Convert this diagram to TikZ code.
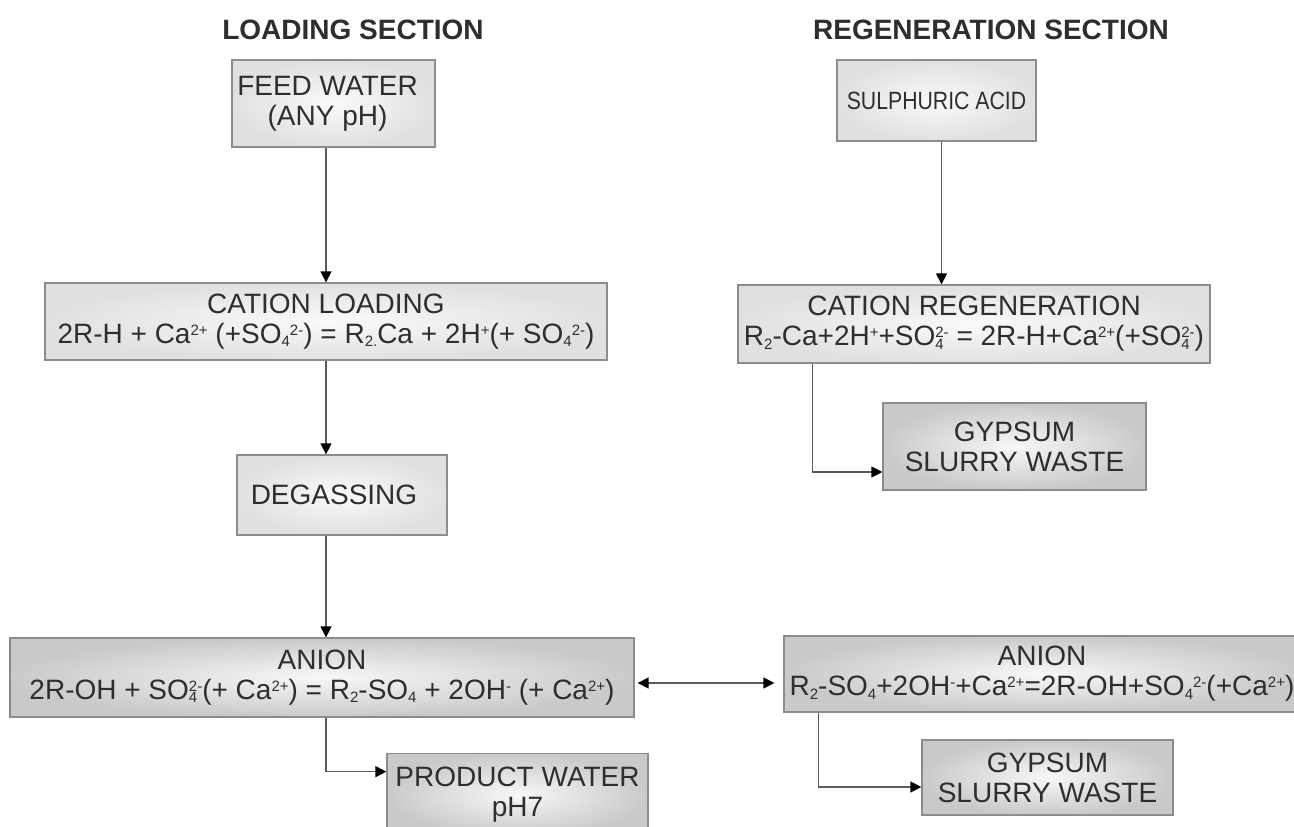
\documentclass[tikz,border=0pt]{standalone}
\usepackage{fontspec}
\setmainfont{Liberation Sans}
\usetikzlibrary{arrows.meta,calc}
\newcommand\scr{\fontsize{15}{15}\selectfont}
\newcommand\subsup[2]{{\setbox0\hbox{\scr\raisebox{-0.4ex}{#1}}\setbox2\hbox{\scr\raisebox{1.05ex}{#2}}\ifdim\wd0>\wd2 \rlap{\box2}\box0\else\rlap{\box0}\box2\fi}}
\newcommand\sbs[1]{{\scr\raisebox{-0.4ex}{#1}}}
\newcommand\sps[1]{{\scr\raisebox{1.05ex}{#1}}}
\definecolor{txt}{HTML}{2E2E2E}
\definecolor{edge}{HTML}{8C8C8C}
\definecolor{line}{HTML}{5A5A5A}
\tikzset{
  box/.style={draw=edge, line width=1.3pt, rectangle, align=center, inner sep=2pt,
    text=txt, font=\fontsize{28}{30}\selectfont},
  lightbox/.style={box, inner color=gray!4, outer color=gray!24},
  darkbox/.style={box, inner color=gray!6, outer color=gray!42},
  head/.style={text=txt, font=\bfseries\fontsize{28}{30}\selectfont},
  arr/.style={draw=line, line width=1.4pt, -{Triangle[length=11pt,width=11pt,color=black]}},
  dbl/.style={draw=line, line width=1.4pt, {Triangle[length=11pt,width=11pt,color=black]}-{Triangle[length=11pt,width=11pt,color=black]}}
}
\begin{document}
\begin{tikzpicture}[x=1pt,y=-1pt]
\useasboundingbox (0,0) rectangle (1294,827);
\clip (0,0) rectangle (1294,827);
\fill[white] (0,0) rectangle (1294,827);
\node[head] (hl) at (353,30) {LOADING SECTION};
\node[head] (hr) at (991,30) {REGENERATION SECTION};

\node[lightbox, minimum width=203pt, minimum height=87pt] (feed) at (333.5,103.5) {\hspace*{-12pt}FEED WATER\\\hspace*{-12pt}(ANY pH)};
\node[lightbox, minimum width=199pt, minimum height=81pt, font=\fontsize{25}{28}\selectfont] (acid) at (936.5,100.5) {\scalebox{0.85}[1]{SULPHURIC ACID}};
\node[lightbox, minimum width=562pt, minimum height=77pt] (catload) at (326,321.5)
  {CATION LOADING\\2R-H + Ca\sps{2+} (+SO\sbs{4}\sps{2-}) = R\sbs{2.}Ca + 2H\sps{+}(+ SO\sbs{4}\sps{2-})};
\node[lightbox, minimum width=472pt, minimum height=78pt] (catregen) at (974,324)
  {CATION REGENERATION\\R\sbs{2}-Ca+2H\sps{+}+SO\subsup{4}{2-} = 2R-H+Ca\sps{2+}(+SO\subsup{4}{2-})};
\node[darkbox, minimum width=263pt, minimum height=87pt] (gyp1) at (1014.5,446.5) {GYPSUM\\SLURRY WASTE};
\node[lightbox, minimum width=210pt, minimum height=80pt] (degas) at (342,495) {\hspace*{-16pt}DEGASSING};
\node[darkbox, minimum width=624pt, minimum height=79pt] (anionL) at (322,677.5)
  {ANION\\2R-OH + SO\subsup{4}{2-}(+ Ca\sps{2+}) = R\sbs{2}-SO\sbs{4} + 2OH\sps{-} (+ Ca\sps{2+})};
\node[darkbox, minimum width=516pt, minimum height=76pt] (anionR) at (1042,674)
  {ANION\\R\sbs{2}-SO\sbs{4}+2OH\sps{-}+Ca\sps{2+}=2R-OH+SO\sbs{4}\sps{2-}(+Ca\sps{2+})};
\node[darkbox, minimum width=251pt, minimum height=75pt] (gyp2) at (1047.5,777.5) {GYPSUM\\SLURRY WASTE};
\node[darkbox, minimum width=261pt, minimum height=82pt, anchor=north] (prod) at (517.5,753) {PRODUCT WATER\\pH7};

\coordinate (acidin) at ([xshift=5pt]acid.south);
\draw[arr] (catload.north |- feed.south) -- (catload.north);
\draw[arr] (catload.south) -- (catload.south |- degas.north);
\draw[arr] (catload.south |- degas.south) -- (catload.south |- anionL.north);
\draw[arr] (acidin) -- (acidin |- catregen.north);
\draw[arr] ([xshift=75pt]catregen.south west) |- ([yshift=-25.5pt]gyp1.west);
\draw[arr] (catload.south |- anionL.south) |- ([yshift=23pt]prod.west);
\draw[arr] ([xshift=35pt]anionR.south west) |- ([yshift=-9.5pt]gyp2.west);
\draw[dbl] ($(anionL.east)+(3,5.5)$) -- ($(anionR.west |- anionL.east)+(-9,5.5)$);
\end{tikzpicture}
\end{document}
